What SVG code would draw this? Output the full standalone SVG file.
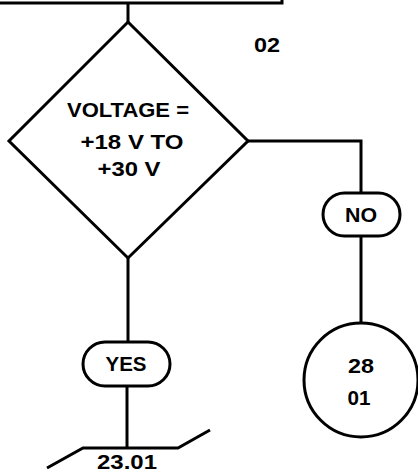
<svg xmlns="http://www.w3.org/2000/svg" width="418" height="474" viewBox="0 0 418 474">
<style>
.s{fill:none;stroke:#000;stroke-width:3;stroke-linejoin:miter;stroke-linecap:butt}
.n{fill:#fff;stroke:#000;stroke-width:3}
.t{font-family:"Liberation Sans",Arial,sans-serif;font-weight:bold;font-size:20px;fill:#000;text-anchor:middle}
</style>
<rect width="418" height="474" fill="#fff"/>
<g id="connectors">
<path class="s" d="M0,3 H282 V0"/>
<path class="s" d="M128,3 V22"/>
<path class="s" d="M248,141 H361 V193"/>
<path class="s" d="M361,236 V323"/>
<path class="s" d="M128,258 V342"/>
<path class="s" d="M127,386 V448"/>
</g>
<g id="decision">
<polygon class="n" points="128,22 248,141 128,258 9,141"/>
<text class="t" x="128" y="117" textLength="122" lengthAdjust="spacingAndGlyphs">VOLTAGE =</text>
<text class="t" x="132" y="149" textLength="103" lengthAdjust="spacingAndGlyphs">+18 V TO</text>
<text class="t" x="129" y="176" textLength="63" lengthAdjust="spacingAndGlyphs">+30 V</text>
</g>
<g id="label02">
<text class="t" x="267" y="52" textLength="26" lengthAdjust="spacingAndGlyphs">02</text>
</g>
<g id="no">
<rect class="n" x="323" y="193" width="77" height="43" rx="21.5"/>
<text class="t" x="361" y="222" textLength="32" lengthAdjust="spacingAndGlyphs">NO</text>
</g>
<g id="yes">
<rect class="n" x="83" y="342" width="87" height="44" rx="22"/>
<text class="t" x="126" y="371" textLength="41" lengthAdjust="spacingAndGlyphs">YES</text>
</g>
<g id="connector2801">
<circle class="n" cx="361" cy="380" r="57"/>
<text class="t" x="361" y="373" textLength="26" lengthAdjust="spacingAndGlyphs">28</text>
<text class="t" x="359" y="405" textLength="23" lengthAdjust="spacingAndGlyphs">01</text>
</g>
<g id="offpage">
<path class="s" d="M47,468 L83,448 H178 L210,430"/>
<text class="t" x="127" y="469" textLength="60" lengthAdjust="spacingAndGlyphs">23.01</text>
</g>
</svg>
